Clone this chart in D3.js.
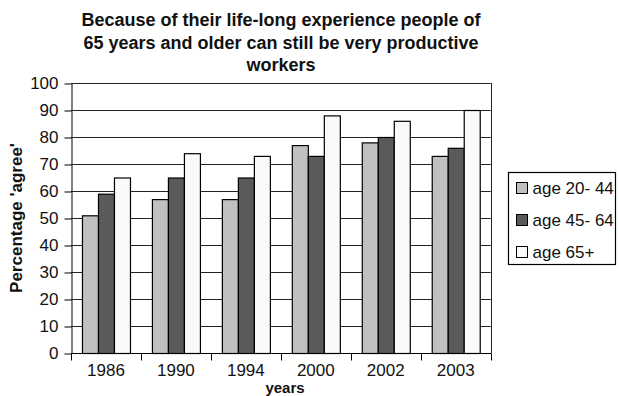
<!DOCTYPE html>
<html>
<head>
<meta charset="utf-8">
<script src="https://cdn.jsdelivr.net/npm/d3@7"></script>
<style>
  html, body { margin: 0; padding: 0; background: #fff; }
  svg { display: block; font-family: "Liberation Sans", Arial, Helvetica, sans-serif; }
</style>
</head>
<body>
<svg id="chart" width="619" height="396"></svg>
<script>
// Survey results: share agreeing, by year of survey and age group
const years = ["1986", "1990", "1994", "2000", "2002", "2003"];
const seriesNames = ["age 20- 44", "age 45- 64", "age 65+"];
const age20to44 = [51, 57, 57, 77, 78, 73];
const age45to64 = [59, 65, 65, 73, 80, 76];
const age65plus = [65, 74, 73, 88, 86, 90];
const yTicks = [0, 10, 20, 30, 40, 50, 60, 70, 80, 90, 100];
const titleLines = [
  "Because of their life-long experience people of",
  "65 years and older can still be very productive",
  "workers"
];

const seriesValues = [age20to44, age45to64, age65plus];
const fills = ["#c0c0c0", "#5a5a5a", "#fafafa"];

const svg = d3.select("#chart");
const plot = { left: 71, right: 490.7, top: 83, bottom: 353 };

const x = d3.scaleBand().domain(years).range([plot.left, plot.right]).padding(0);
const groupW = 48;
const xInner = d3.scaleBand().domain(d3.range(seriesNames.length))
  .range([0, groupW]).padding(0);
const y = d3.scaleLinear().domain([0, 100]).range([plot.bottom, plot.top]);

// Horizontal gridlines
svg.append("g")
  .selectAll("line")
  .data(yTicks.filter(t => t > 0))
  .join("line")
  .attr("x1", plot.left).attr("x2", plot.right)
  .attr("y1", d => Math.round(y(d)) + 0.5).attr("y2", d => Math.round(y(d)) + 0.5)
  .attr("stroke", "#222").attr("stroke-width", 1);

// Right edge of the plot frame
svg.append("line")
  .attr("x1", Math.round(plot.right) + 0.5).attr("x2", Math.round(plot.right) + 0.5)
  .attr("y1", plot.top).attr("y2", plot.bottom)
  .attr("stroke", "#222");

// Bars
const rows = years.map((yr, i) => ({ yr, vals: seriesValues.map(s => s[i]) }));
const groups = svg.append("g").selectAll("g")
  .data(rows)
  .join("g")
  .attr("transform", d => `translate(${x(d.yr) + (x.bandwidth() - groupW) / 2},0)`);

groups.selectAll("rect")
  .data(d => d.vals.map((v, k) => ({ v, k })))
  .join("rect")
  .attr("x", d => xInner(d.k) + 0.5)
  .attr("width", xInner.bandwidth())
  .attr("y", d => y(d.v) + 0.5)
  .attr("height", d => y(0) - y(d.v))
  .attr("fill", d => fills[d.k])
  .attr("stroke", "#000")
  .attr("stroke-width", 1.2);

// Y axis
const yAxis = d3.axisLeft(y).tickValues(yTicks).tickSize(7).tickPadding(6).tickSizeOuter(0);
const gy = svg.append("g")
  .attr("transform", `translate(${plot.left + 0.5},0.5)`)
  .call(yAxis);
gy.select(".domain").attr("stroke", "#000");
gy.selectAll(".tick line").attr("stroke", "#000");
gy.selectAll("text")
  .attr("font-size", 17).attr("fill", "#111")
  .attr("font-family", "Liberation Sans, Arial, sans-serif");

// X axis: ticks sit on the category boundaries
const gx = svg.append("g")
  .attr("transform", `translate(0,${plot.bottom + 0.5})`);
gx.append("line")
  .attr("x1", plot.left).attr("x2", plot.right + 0.5)
  .attr("y1", 0).attr("y2", 0).attr("stroke", "#000");
const boundaries = years.map(d => x(d)).concat([plot.right]);
gx.selectAll("line.bound")
  .data(boundaries)
  .join("line")
  .attr("class", "bound")
  .attr("x1", d => Math.round(d) + 0.5).attr("x2", d => Math.round(d) + 0.5)
  .attr("y1", 0).attr("y2", 7)
  .attr("stroke", "#000");
gx.selectAll("text")
  .data(years)
  .join("text")
  .attr("x", d => x(d) + x.bandwidth() / 2)
  .attr("y", 22)
  .attr("text-anchor", "middle")
  .attr("font-size", 17).attr("fill", "#111")
  .text(d => d);

// Title
svg.append("g").selectAll("text")
  .data(titleLines)
  .join("text")
  .attr("x", 281)
  .attr("y", (d, i) => 26 + i * 22.5)
  .attr("text-anchor", "middle")
  .attr("font-size", 18).attr("font-weight", "bold").attr("fill", "#111")
  .text(d => d);

// Axis titles
svg.append("text")
  .attr("transform", `translate(22,${(plot.top + plot.bottom) / 2}) rotate(-90)`)
  .attr("text-anchor", "middle")
  .attr("font-size", 17).attr("font-weight", "bold").attr("fill", "#111")
  .text("Percentage 'agree'");

svg.append("text")
  .attr("x", 285)
  .attr("y", 393)
  .attr("text-anchor", "middle")
  .attr("font-size", 15).attr("font-weight", "bold").attr("fill", "#111")
  .text("years");

// Legend
const legend = svg.append("g");
legend.append("rect")
  .attr("x", 508.5).attr("y", 172.5)
  .attr("width", 107).attr("height", 92)
  .attr("fill", "#fff").attr("stroke", "#000").attr("stroke-width", 1.2);
const items = legend.selectAll("g.item")
  .data(seriesNames)
  .join("g")
  .attr("class", "item")
  .attr("transform", (d, i) => `translate(516,${182 + i * 32})`);
items.append("rect")
  .attr("x", 0.5).attr("y", 0.5)
  .attr("width", 11).attr("height", 11)
  .attr("fill", (d, i) => fills[i])
  .attr("stroke", "#000").attr("stroke-width", 1);
items.append("text")
  .attr("x", 16.5).attr("y", 11.5)
  .attr("font-size", 17).attr("fill", "#111")
  .text(d => d);
</script>
</body>
</html>
